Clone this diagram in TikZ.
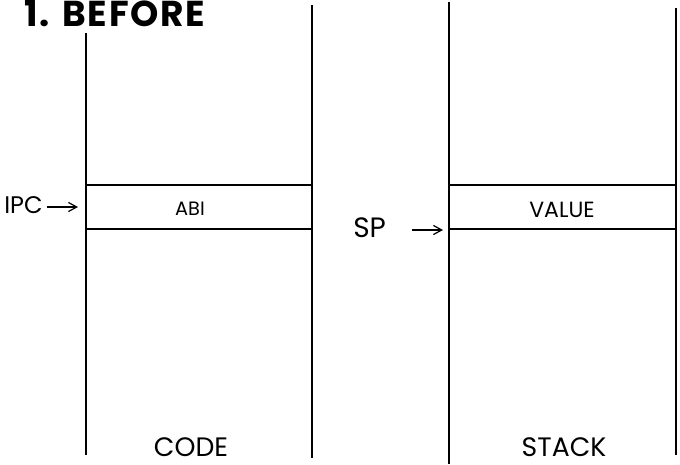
\documentclass[tikz,border=0pt]{standalone}
\usepackage{fontspec}
\setmainfont{Poppins}
\usetikzlibrary{arrows.meta}
\begin{document}
\begin{tikzpicture}[x=0.75pt,y=-0.75pt,
  wall/.style={line width=0.8pt,color=black},
  slot/.style={line width=1.6pt,color=black},
  lbl/.style={inner sep=0pt,anchor=base,font=\fontsize{20}{23}\selectfont},
  cell/.style={inner sep=0pt,anchor=base,font=\fontsize{14.5}{17}\selectfont},
  arr/.style={-{Straight Barb[length=2.2mm,width=2.4mm]},line width=0.9pt}
]
\useasboundingbox (0,0) rectangle (680,464);
\node[anchor=base west,inner sep=0pt,font=\bfseries\fontsize{27}{30}\selectfont\addfontfeature{LetterSpace=5}] (title) at (24,26) {1. BEFORE};
% code column
\draw[wall] (86,33) -- (86,455);
\draw[wall] (312,5) -- (312,458);
\draw[slot] (86,185) -- (312,185);
\draw[slot] (86,229) -- (312,229);
\node[cell] (abi) at (190,215) {ABI};
\node[lbl] (code) at (191,456) {CODE};
% stack column
\draw[wall] (449,2) -- (449,464);
\draw[wall] (676,8) -- (676,455);
\draw[slot] (449,185) -- (676,185);
\draw[slot] (449,229) -- (676,229);
\node[cell,font=\fontsize{16.5}{19}\selectfont] (value) at (562,217) {VALUE};
\node[lbl] (stack) at (564,456) {STACK};
% pointers
\node[lbl,anchor=base west,font=\fontsize{18}{21}\selectfont] (ipc) at (4,213) {IPC};
\coordinate (ipctip) at (78,207);
\draw[arr] (ipc.east |- ipctip) ++(4,0) -- (ipctip);
\node[lbl,anchor=base west,font=\fontsize{21}{24}\selectfont] (sp) at (353,237) {SP};
\coordinate (sptip) at (443,230);
\draw[arr] (412,230) -- (sptip);
\end{tikzpicture}
\end{document}
